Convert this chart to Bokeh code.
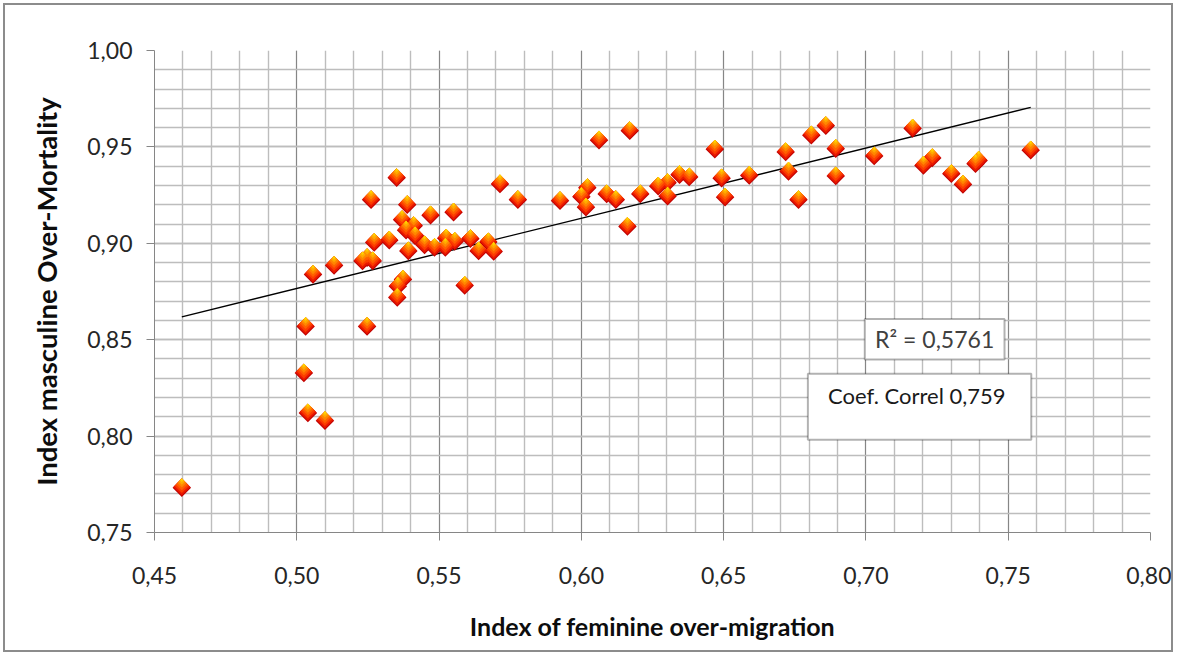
import numpy as np
from bokeh.plotting import figure
from bokeh.models import (Range1d, FixedTicker, CustomJSTickFormatter, BoxAnnotation,
                          Label, ColumnDataSource)
from bokeh.embed import file_html
from bokeh.resources import INLINE

# ---------------- data ----------------
x_vals = [0.4596, 0.5031, 0.5025, 0.5039, 0.5099, 0.5057, 0.5131, 0.5247, 0.5261, 0.5272,
          0.5231, 0.5247, 0.5267, 0.5325, 0.5351, 0.5370, 0.5388, 0.5411, 0.5384, 0.5416,
          0.5392, 0.5353, 0.5355, 0.5373, 0.5449, 0.5470, 0.5484, 0.5522, 0.5525, 0.5551,
          0.5555, 0.5590, 0.5610, 0.5639, 0.5673, 0.5692, 0.5714, 0.5777, 0.5925, 0.6000,
          0.6021, 0.6016, 0.6062, 0.6089, 0.6121, 0.6162, 0.6170, 0.6207, 0.6270, 0.6303,
          0.6303, 0.6345, 0.6379, 0.6469, 0.6493, 0.6505, 0.6590, 0.6718, 0.6728, 0.6763,
          0.6808, 0.6859, 0.6894, 0.6894, 0.7029, 0.7164, 0.7202, 0.7233, 0.7300, 0.7341,
          0.7385, 0.7396, 0.7579]
y_vals = [0.7732, 0.8568, 0.8327, 0.8120, 0.8080, 0.8838, 0.8885, 0.8568, 0.9226, 0.9004,
          0.8908, 0.8925, 0.8908, 0.9016, 0.9340, 0.9122, 0.9200, 0.9091, 0.9068, 0.9038,
          0.8960, 0.8719, 0.8777, 0.8812, 0.8991, 0.9146, 0.8978, 0.8978, 0.9026, 0.9161,
          0.9009, 0.8781, 0.9023, 0.8960, 0.9007, 0.8957, 0.9308, 0.9226, 0.9221, 0.9242,
          0.9288, 0.9187, 0.9535, 0.9256, 0.9226, 0.9087, 0.9584, 0.9256, 0.9296, 0.9314,
          0.9244, 0.9356, 0.9344, 0.9488, 0.9338, 0.9239, 0.9352, 0.9474, 0.9373, 0.9226,
          0.9561, 0.9610, 0.9491, 0.9349, 0.9453, 0.9596, 0.9404, 0.9443, 0.9361, 0.9305,
          0.9413, 0.9430, 0.9483]

x_ticks = [0.45, 0.50, 0.55, 0.60, 0.65, 0.70, 0.75, 0.80]
x_tick_labels = ["0,45", "0,50", "0,55", "0,60", "0,65", "0,70", "0,75", "0,80"]
y_ticks = [0.75, 0.80, 0.85, 0.90, 0.95, 1.00]
y_tick_labels = ["0,75", "0,80", "0,85", "0,90", "0,95", "1,00"]

x_title = "Index of feminine over-migration"
y_title = "Index masculine Over-Mortality"
r2_text = "R² = 0,5761"
coef_text = "Coef.  Correl 0,759"

# ---------------- layout ----------------
W, H = 1166, 645
FL, FT, FW, FH = 149, 45, 992, 478
X0, X1, Y0, Y1 = 0.45, 0.80, 0.75, 1.00

p = figure(width=W, height=H, output_backend="svg", toolbar_location=None,
           x_range=Range1d(X0, X1), y_range=Range1d(Y0, Y1),
           min_border_left=FL, min_border_top=FT,
           min_border_right=W - FL - FW, min_border_bottom=H - FT - FH)
p.outline_line_color = None
p.background_fill_color = "white"
p.border_fill_color = "white"
p.styles = {"border": "2px solid #8c8c8c", "margin": "3px", "box-sizing": "content-box"}

FONT = "Lato"
minor_x = [round(X0 + 0.01 * i, 2) for i in range(0, 36)]
minor_y = [round(Y0 + 0.01 * i, 2) for i in range(0, 26)]

p.xaxis.ticker = FixedTicker(ticks=x_ticks, minor_ticks=minor_x)
p.yaxis.ticker = FixedTicker(ticks=y_ticks, minor_ticks=minor_y)
p.xgrid.ticker = p.xaxis.ticker
p.ygrid.ticker = p.yaxis.ticker

fmt_code = """
const i = tv.findIndex(t => Math.abs(t - tick) < 1e-6);
return i >= 0 ? tl[i] : "";
"""
p.xaxis.formatter = CustomJSTickFormatter(args=dict(tv=x_ticks, tl=x_tick_labels), code=fmt_code)
p.yaxis.formatter = CustomJSTickFormatter(args=dict(tv=y_ticks, tl=y_tick_labels), code=fmt_code)

for ax in (p.xaxis, p.yaxis):
    ax.axis_line_color = "#868686"
    ax.axis_line_width = 1
    ax.major_tick_line_color = "#868686"
    ax.major_tick_out = 8
    ax.major_tick_in = 0
    ax.minor_tick_line_color = None
    ax.major_label_text_font = FONT
    ax.major_label_text_font_size = "23px"
    ax.major_label_text_color = "#262626"
    ax.axis_label_text_font = FONT
    ax.axis_label_text_font_style = "bold"
    ax.axis_label_text_color = "#0d0d0d"

p.xaxis.axis_label_text_font_size = "25px"
p.yaxis.axis_label_text_font_size = "27.5px"
p.xaxis.axis_label = x_title
p.yaxis.axis_label = y_title
p.xaxis.major_label_standoff = 26
p.yaxis.major_label_standoff = 14
p.xaxis.axis_label_standoff = 24
p.yaxis.axis_label_standoff = 21

p.xgrid.grid_line_color = "#868686"
p.xgrid.grid_line_width = 1
p.xgrid.minor_grid_line_color = "#bdbdbd"
p.xgrid.minor_grid_line_width = 1.4
p.ygrid.grid_line_color = "#bdbdbd"
p.ygrid.grid_line_width = 1.4
p.ygrid.minor_grid_line_color = "#bdbdbd"
p.ygrid.minor_grid_line_width = 1.4

# ---------------- trend line (least squares on the data) ----------------
xa = np.array(x_vals)
ya = np.array(y_vals)
slope, intercept = np.polyfit(xa, ya, 1)
tx = np.array([xa.min(), xa.max()])
p.line(tx, slope * tx + intercept, line_color="black", line_width=1.4)

# ---------------- diamond markers with a top-to-bottom gradient ----------------
px_to_y = (Y1 - Y0) / FH
D0 = 18.5
layers = [(18.5, "#c00000"), (17.0, "#e81800"), (14.6, "#fc3c00"), (11.8, "#ff6000"),
          (9.0, "#ff8600"), (6.2, "#ffaa00"), (3.6, "#ffcc00"), (1.6, "#ffe400")]
for d, col in layers:
    shift = (D0 - d) / 2.0 * px_to_y
    src = ColumnDataSource(dict(x=xa, y=ya + shift))
    p.scatter("x", "y", source=src, marker="square", angle=np.pi / 4,
              size=d / np.sqrt(2), fill_color=col, line_color=None)

# ---------------- text boxes ----------------
p.add_layout(BoxAnnotation(left=0.6996, right=0.7487, top=0.8607, bottom=0.8397,
                           fill_color="white", fill_alpha=1.0, line_color="black", line_width=2,
                           level="annotation"))
p.add_layout(Label(x=(0.6996 + 0.7487) / 2, y=(0.8607 + 0.8397) / 2, text=r2_text,
                   text_font=FONT, text_font_size="23px", text_color="#404040",
                   text_align="center", text_baseline="middle"))
p.add_layout(BoxAnnotation(left=0.6796, right=0.7581, top=0.8324, bottom=0.7981,
                           fill_color="white", fill_alpha=1.0, line_color="black", line_width=2,
                           level="annotation"))
p.add_layout(Label(x=(0.6796 + 0.7581) / 2, y=0.8208, text=coef_text,
                   text_font=FONT, text_font_size="22px", text_color="#1a1a1a",
                   text_align="center", text_baseline="middle"))

open("out.html", "w").write(file_html(p, INLINE))
